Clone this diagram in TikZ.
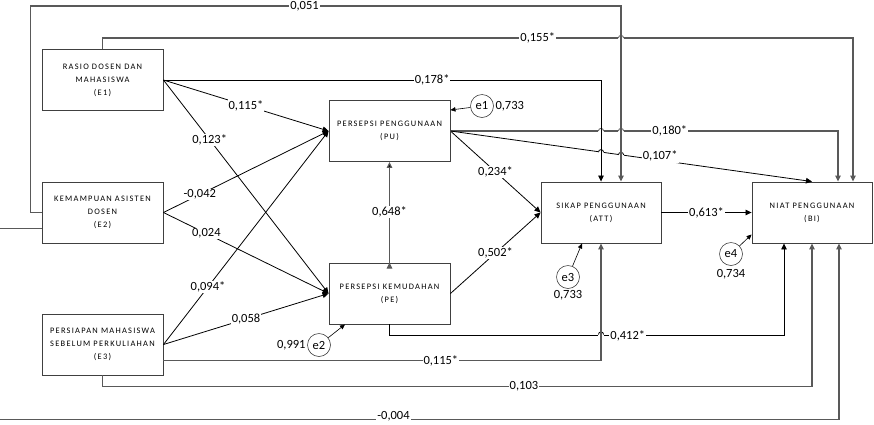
\documentclass[tikz,border=0pt]{standalone}
\usepackage{fontspec}
\setmainfont{Carlito}
\newfontfamily\boxfont[LetterSpace=15]{Carlito}
\usetikzlibrary{positioning,arrows.meta}

% small bump where a line jumps over another one
\newcommand{\linehop}[3][black]{%
  \fill[white] (#2-2.6,#3-1.3) rectangle (#2+2.6,#3+1.3);
  \draw[#1,line width=.8pt] (#2-2.6,#3) .. controls (#2-2.6,#3-3.4) and (#2+2.6,#3-3.4) .. (#2+2.6,#3);}

\begin{document}
\begin{tikzpicture}[x=1pt,y=-1pt,on grid,
  construct/.style={draw=black!75,line width=.9pt,minimum width=121pt,minimum height=61pt,
    inner sep=0pt,align=center,font=\boxfont\fontsize{8.4}{13}\selectfont},
  err/.style={circle,draw=black!75,line width=.6pt,minimum size=23pt,inner sep=0pt,
    font=\fontsize{12.5}{13}\selectfont},
  every label/.append style={font=\fontsize{12.5}{13}\selectfont,inner sep=1.5pt},
  link/.style={-{Triangle[length=6pt,width=5.5pt]},line width=.8pt,black},
  glink/.style={link,draw=black!65,line width=1.1pt},
  elink/.style={-{Triangle[length=5pt,width=4.5pt]},line width=.6pt,black},
  coef/.style={fill=white,inner sep=1pt,font=\fontsize{12.5}{13}\selectfont}]
\useasboundingbox (0,0) rectangle (874,424);

\node[construct] (E1) at (102.5,80) {RASIO DOSEN DAN\\MAHASISWA\\(E1)};
\node[construct] (E2) [below=132.5pt of E1] {KEMAMPUAN ASISTEN\\DOSEN\\(E2)};
\node[construct] (E3) [below=132pt of E2] {PERSIAPAN MAHASISWA\\SEBELUM PERKULIAHAN\\(E3)};
\node[construct] (PU) at (389.5,131) {PERSEPSI PENGGUNAAN\\(PU)};
\node[construct] (PE) [below=162.5pt of PU] {PERSEPSI KEMUDAHAN\\(PE)};
\node[construct,minimum width=120pt] (ATT) at (601,212.5) {SIKAP PENGGUNAAN\\(ATT)};
\node[construct,minimum width=120pt] (BI) [right=211pt of ATT] {NIAT PENGGUNAAN\\(BI)};

\node[err,label={right:0,733}] (e1) at (482,106) {e1};
\node[err,label={left:0,991}] (e2) at (319,345) {e2};
\node[err,label={below:0,733}] (e3) at (568,277) {e3};
\node[err,label={[label distance=2pt]below:0,734}] (e4) at (731,254) {e4};

\path[link]
  (E1.east) edge node[coef,pos=.5]{0,115*} (PU.west)
  (E1.east) edge node[coef,pos=.28]{0,123*} (PE.west)
  (E2.east) edge node[coef,pos=.22]{-0,042} (PU.west)
  (E2.east) edge node[coef,pos=.26]{0,024} (PE.west)
  (E3.east) edge node[coef,pos=.27]{0,094*} (PU.west)
  (E3.east) edge node[coef,pos=.5]{0,058} (PE.west)
  (PU.east) edge node[coef]{0,234*} (ATT.west)
  (PE.east) edge node[coef]{0,502*} (ATT.west)
  (ATT.east) edge node[coef]{0,613*} (BI.west);
\path[glink] (PE.north) edge node[coef]{0,648*} (PU.south);
\path[elink]
  (e1) edge ([yshift=21pt]PU.east)
  (e2) edge ([xshift=-44.5pt]PE.south)
  (e3) edge ([xshift=-19pt]ATT.south)
  (e4) edge ([yshift=-22pt]BI.west);

% lines that jump over the vertical ones
\draw[glink] (E1.north) |- (853,38) node[coef,pos=.79]{0,155*} -- ([xshift=41pt]BI.north);
\draw[glink] (PU.east) -| node[coef,pos=.283]{0,180*} ([xshift=26pt]BI.north);
\draw[link] (PU.east) -- node[coef,pos=.58,yshift=4pt]{0,107*} (BI.north);
\draw[link] (PE.south) -- ++(0,11) -| node[coef,pos=.302]{0,412*} ([xshift=-28pt]BI.south);
\linehop[black!65]{621}{38}
\linehop[black!65]{601}{131}
\linehop[black!65]{621}{131}
\linehop{601}{152.2}
\linehop{621}{154.9}
\linehop{601}{334.5}

\draw[glink] (E2.west) -- ++(-11,0) |- node[coef,pos=.732]{0,051} (621,6) -- ([xshift=20pt]ATT.north);
\draw[link] (E1.east) -| node[coef,pos=.307]{0,178*} (ATT.north);
\draw[glink] ([yshift=-16pt]E3.east) -| node[coef,pos=.317]{0,115*} (ATT.south);
\draw[glink] (E3.south) -- ++(0,11) -| node[coef,pos=.297]{0,103} (BI.south);
\draw[glink] ([yshift=-16pt]E2.west) -- (-8,228.5) |- node[coef,pos=.737,yshift=3pt]{-0,004} (839,419.5) -- ([xshift=27pt]BI.south);
\end{tikzpicture}
\end{document}
